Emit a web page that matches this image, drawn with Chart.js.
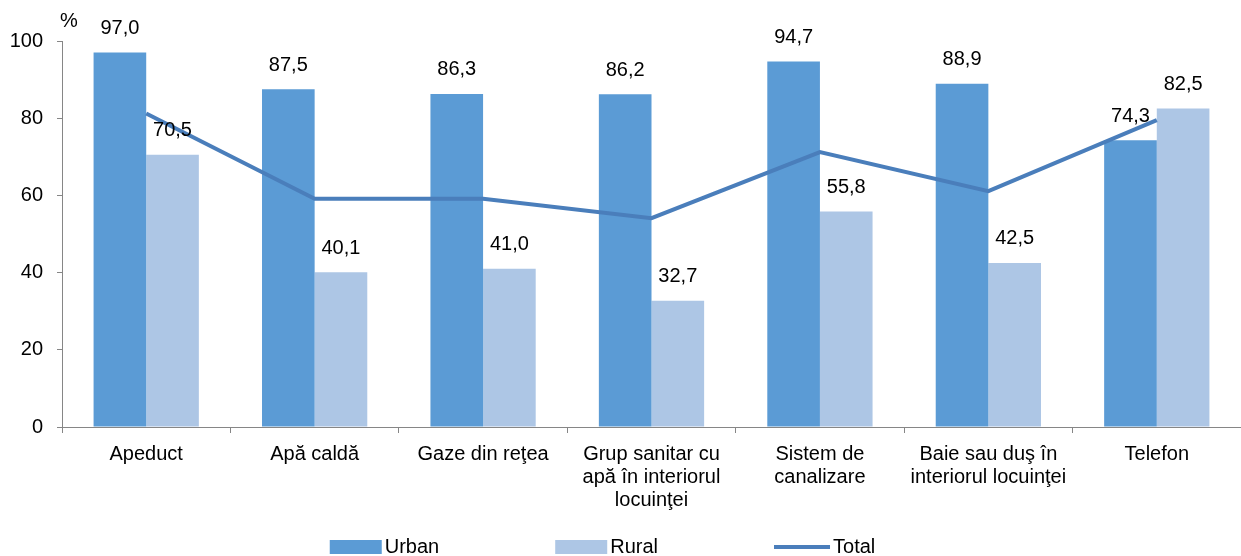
<!DOCTYPE html>
<html lang="ro">
<head>
  <meta charset="UTF-8" />
  <title>Dotări ale locuinţelor</title>
  <script src="https://cdn.jsdelivr.net/npm/chart.js"></script>
  <style>
    html, body { margin: 0; padding: 0; background: #fff; }
    #wrap { width: 1241px; height: 556px; }
  </style>
</head>
<body>
  <div id="wrap"><canvas id="chart" width="1241" height="556"></canvas></div>

  <script>
    // categories (multi-line labels as shown under the axis)
    const categories = [
      ["Apeduct"],
      ["Apă caldă"],
      ["Gaze din reţea"],
      ["Grup sanitar cu", "apă în interiorul", "locuinţei"],
      ["Sistem de", "canalizare"],
      ["Baie sau duş în", "interiorul locuinţei"],
      ["Telefon"]
    ];
    const urbanValues = [97.0, 87.5, 86.3, 86.2, 94.7, 88.9, 74.3];
    const ruralValues = [70.5, 40.1, 41.0, 32.7, 55.8, 42.5, 82.5];
    const totalValues = [81.2, 59.1, 59.1, 54.1, 71.2, 61.1, 79.5];
    const yTicks = [0, 20, 40, 60, 80, 100];

    const FONT = "Liberation Sans, Arial, sans-serif";
    const axisGray = "#868686";

    // value labels above the bars, decimal comma
    const barLabels = {
      id: "barLabels",
      afterDatasetsDraw(chart) {
        const ctx = chart.ctx;
        ctx.save();
        ctx.font = "20px " + FONT;
        ctx.fillStyle = "#000";
        ctx.textAlign = "center";
        ctx.textBaseline = "middle";
        chart.data.datasets.forEach((ds, i) => {
          if (ds.type !== "bar") return;
          chart.getDatasetMeta(i).data.forEach((el, j) => {
            const txt = ds.data[j].toFixed(1).replace(".", ",");
            ctx.fillText(txt, el.x, el.y - 24);
          });
        });
        ctx.restore();
      }
    };

    // "%" unit and the legend at the bottom
    const extras = {
      id: "extras",
      afterDraw(chart) {
        const ctx = chart.ctx;
        const area = chart.chartArea;
        ctx.save();
        ctx.font = "20px " + FONT;
        ctx.fillStyle = "#000";
        ctx.textBaseline = "middle";
        ctx.textAlign = "left";
        ctx.fillText("%", area.left - 2, area.top - 20);

        const items = chart.data.datasets.slice().sort((a, b) => a.legendIndex - b.legendIndex);
        const boxW = 52, gap = 3, spacing = 116;
        const widths = items.map(d => boxW + gap + ctx.measureText(d.label).width);
        const total = widths.reduce((a, b) => a + b, 0) + spacing * (items.length - 1);
        let x = chart.width / 2 - total / 2 - 20;
        const y = 547;
        items.forEach((d, k) => {
          if (d.type === "bar") {
            ctx.fillStyle = d.backgroundColor;
            ctx.fillRect(x, y - 7, boxW, 14);
          } else {
            ctx.strokeStyle = d.borderColor;
            ctx.lineWidth = 4;
            ctx.beginPath();
            ctx.moveTo(x, y);
            ctx.lineTo(x + boxW + 4, y);
            ctx.stroke();
          }
          ctx.fillStyle = "#000";
          ctx.fillText(d.label, x + boxW + gap + (d.type === "bar" ? 0 : 4), y);
          x += widths[k] + spacing;
        });
        ctx.restore();
      }
    };

    new Chart(document.getElementById("chart"), {
      data: {
        labels: categories,
        datasets: [
          {
            type: "line",
            label: "Total",
            legendIndex: 2,
            data: totalValues,
            borderColor: "#4A7EBB",
            backgroundColor: "#4A7EBB",
            borderWidth: 4,
            pointRadius: 0,
            tension: 0,
            order: 0
          },
          {
            type: "bar",
            label: "Urban",
            legendIndex: 0,
            data: urbanValues,
            backgroundColor: "#5B9BD5",
            categoryPercentage: 0.625,
            barPercentage: 1,
            order: 1
          },
          {
            type: "bar",
            label: "Rural",
            legendIndex: 1,
            data: ruralValues,
            backgroundColor: "#ADC6E5",
            categoryPercentage: 0.625,
            barPercentage: 1,
            order: 1
          }
        ]
      },
      options: {
        responsive: false,
        animation: false,
        devicePixelRatio: 1,
        layout: { padding: { top: 41, right: 0, bottom: 0, left: 0 } },
        plugins: {
          legend: { display: false },
          tooltip: { enabled: false }
        },
        scales: {
          x: {
            offset: true,
            grid: {
              offset: true,
              drawOnChartArea: false,
              drawTicks: true,
              tickLength: 6,
              color: axisGray
            },
            border: { color: axisGray, width: 1 },
            ticks: {
              color: "#000",
              font: { family: FONT, size: 20, lineHeight: 1.15 },
              padding: 10,
              maxRotation: 0,
              autoSkip: false
            },
            afterFit(scale) { scale.height = 129; }
          },
          y: {
            min: 0,
            max: 100,
            afterBuildTicks(scale) { scale.ticks = yTicks.map(v => ({ value: v })); },
            grid: {
              drawOnChartArea: false,
              drawTicks: true,
              tickLength: 5,
              color: axisGray
            },
            border: { color: axisGray, width: 1 },
            ticks: {
              color: "#000",
              font: { family: FONT, size: 20 },
              padding: 14
            },
            afterFit(scale) { scale.width = 62; }
          }
        }
      },
      plugins: [barLabels, extras]
    });
  </script>
</body>
</html>
